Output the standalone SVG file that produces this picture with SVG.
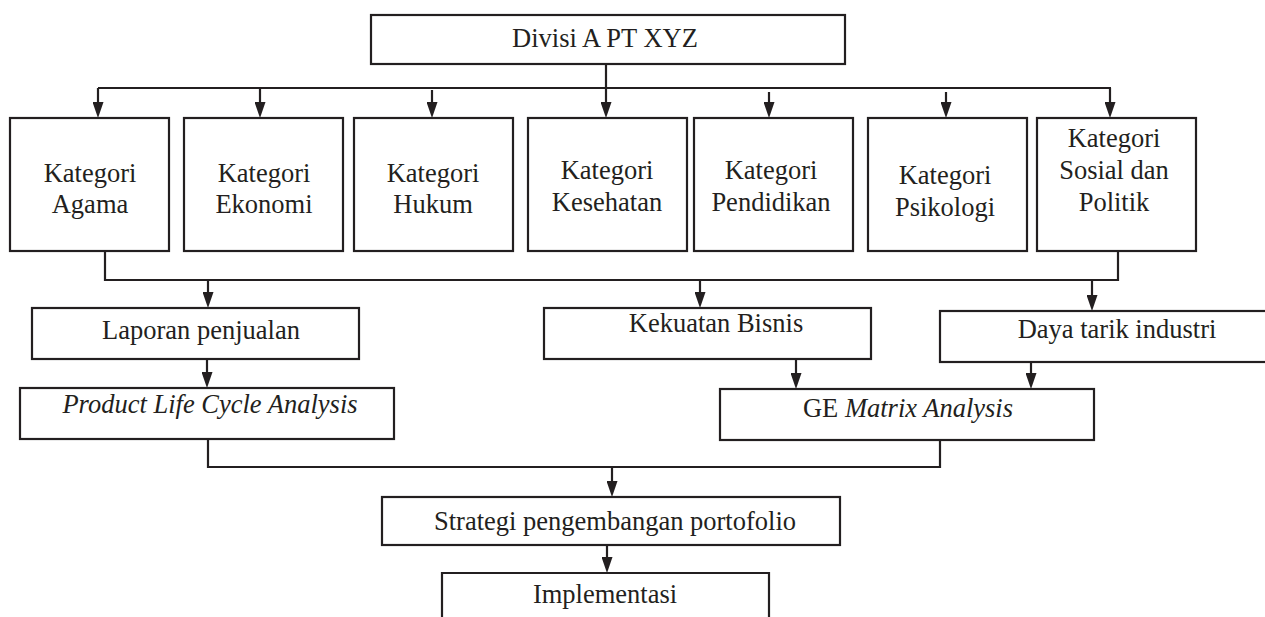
<svg xmlns="http://www.w3.org/2000/svg" width="1265" height="617" viewBox="0 0 1265 617">
<style>
.box{fill:#fff;stroke:#231f20;stroke-width:2.2}
.t{font-family:"Liberation Serif","Times New Roman",serif;font-size:26.5px;fill:#231f20;text-anchor:middle}
.i{font-style:italic}
.c{fill:none;stroke:#231f20;stroke-width:2.2}
.a{fill:none;stroke:#231f20;stroke-width:2.2;marker-end:url(#ah)}
</style>
<defs>
<marker id="ah" markerUnits="userSpaceOnUse" markerWidth="16" markerHeight="11" viewBox="0 0 16 11" refX="10" refY="5.5" orient="auto">
<path d="M0,0 L16,5.5 L0,11 Z" fill="#231f20"/>
</marker>
</defs>
<rect width="1265" height="617" fill="#fff"/>
<g id="connectors">
<path class="c" d="M606,64 V88 M98,88 H1111"/>
<path class="a" d="M98,88 V112"/>
<path class="a" d="M260,88 V112"/>
<path class="a" d="M432,90 V112"/>
<path class="a" d="M606,88 V112"/>
<path class="a" d="M769,92 V112"/>
<path class="a" d="M946,92 V112"/>
<path class="a" d="M1110,88 V112"/>
<path class="c" d="M105,251 V280 H1118 V251"/>
<path class="a" d="M208,280 V302"/>
<path class="a" d="M700,280 V302"/>
<path class="a" d="M1092,280 V305"/>
<path class="a" d="M207,359 V382"/>
<path class="a" d="M796,359 V383"/>
<path class="a" d="M1031,362 V383"/>
<path class="c" d="M208,439 V467 H940 V440"/>
<path class="a" d="M612,467 V491"/>
<path class="a" d="M607,545 V567"/>
</g>
<g id="divisi">
<rect class="box" x="371" y="15" width="474" height="49"/>
<text class="t" x="605" y="47">Divisi A PT XYZ</text>
</g>
<g id="agama">
<rect class="box" x="10" y="118" width="159" height="133"/>
<text class="t" x="90" y="182">Kategori</text>
<text class="t" x="90" y="213">Agama</text>
</g>
<g id="ekonomi">
<rect class="box" x="184" y="118" width="159" height="133"/>
<text class="t" x="264" y="182">Kategori</text>
<text class="t" x="264" y="213">Ekonomi</text>
</g>
<g id="hukum">
<rect class="box" x="354" y="118" width="159" height="133"/>
<text class="t" x="433" y="182">Kategori</text>
<text class="t" x="433" y="213">Hukum</text>
</g>
<g id="kesehatan">
<rect class="box" x="528" y="118" width="159" height="133"/>
<text class="t" x="607" y="179">Kategori</text>
<text class="t" x="607" y="211">Kesehatan</text>
</g>
<g id="pendidikan">
<rect class="box" x="694" y="118" width="159" height="133"/>
<text class="t" x="771" y="179">Kategori</text>
<text class="t" x="771" y="211">Pendidikan</text>
</g>
<g id="psikologi">
<rect class="box" x="868" y="118" width="159" height="133"/>
<text class="t" x="945" y="184">Kategori</text>
<text class="t" x="945" y="216">Psikologi</text>
</g>
<g id="sosial">
<rect class="box" x="1037" y="118" width="159" height="133"/>
<text class="t" x="1114" y="147">Kategori</text>
<text class="t" x="1114" y="179">Sosial dan</text>
<text class="t" x="1114" y="211">Politik</text>
</g>
<g id="laporan">
<rect class="box" x="32" y="308" width="327" height="51"/>
<text class="t" x="201" y="339">Laporan penjualan</text>
</g>
<g id="kekuatan">
<rect class="box" x="544" y="308" width="327" height="51"/>
<text class="t" x="716" y="332">Kekuatan Bisnis</text>
</g>
<g id="dayatarik">
<rect class="box" x="940" y="311" width="340" height="51"/>
<text class="t" x="1117" y="338">Daya tarik industri</text>
</g>
<g id="plc">
<rect class="box" x="20" y="388" width="374" height="51"/>
<text class="t i" x="210" y="413">Product Life Cycle Analysis</text>
</g>
<g id="ge">
<rect class="box" x="720" y="389" width="374" height="51"/>
<text class="t" x="908" y="417">GE <tspan class="i">Matrix Analysis</tspan></text>
</g>
<g id="strategi">
<rect class="box" x="382" y="497" width="458" height="48"/>
<text class="t" x="615" y="530">Strategi pengembangan portofolio</text>
</g>
<g id="implementasi">
<path class="box" d="M442,630 V573 H769 V630"/>
<text class="t" x="605" y="603">Implementasi</text>
</g>
</svg>
